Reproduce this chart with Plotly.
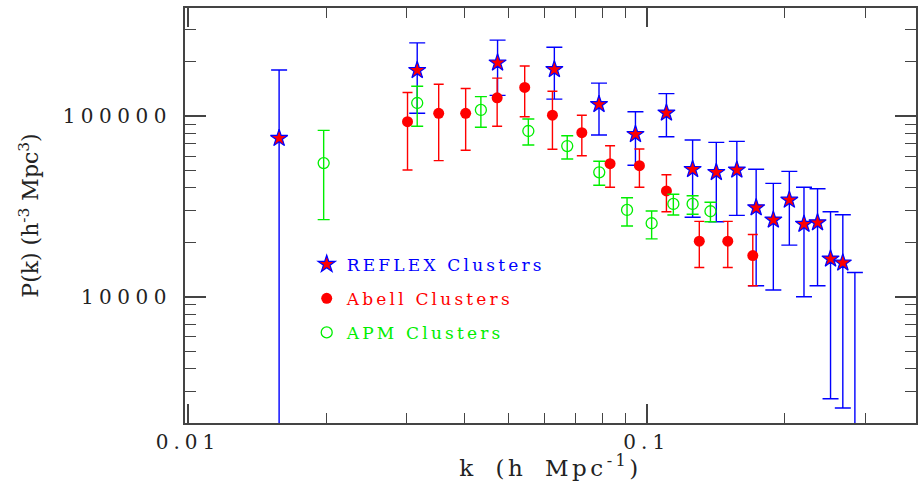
import numpy as np
import plotly.graph_objects as go

# REFLEX clusters
k_reflex = [0.0158, 0.0316, 0.0473, 0.0629, 0.0787, 0.0945, 0.1104, 0.1259, 0.1418,
            0.1572, 0.1732, 0.1888, 0.2046, 0.2202, 0.2357, 0.2516, 0.2676, 0.2843]
p_reflex = [75300, 179000, 197000, 181000, 116000, 79200, 104000, 50700, 48800,
            50300, 31100, 26600, 34300, 25200, 25700, 16200, 15400, 1500]
p_reflex_hi = [179800, 254000, 263000, 240000, 152000, 105600, 133000, 73600, 71500,
               72400, 50700, 42400, 49400, 40300, 39600, 29500, 28400, 13600]
p_reflex_lo = [300, 103500, 130000, 124000, 78500, 53400, 76800, 27500, 26000,
               28200, 11500, 10900, 19300, 10000, 11500, 2726, 2421, 300]

# Abell clusters
k_abell = [0.0301, 0.0352, 0.0403, 0.0472, 0.0542, 0.0623, 0.0722, 0.0832, 0.0964,
           0.1104, 0.1302, 0.1502, 0.1703]
p_abell = [93000, 103500, 103500, 126000, 144000, 101000, 80800, 54500, 53100,
           38500, 20300, 20300, 16900]
p_abell_hi = [135000, 150000, 142000, 162000, 189000, 137000, 101000, 68500, 65700,
              47300, 26100, 26100, 22100]
p_abell_lo = [50300, 56600, 64600, 87700, 99000, 65400, 60300, 40300, 40300,
              29500, 14500, 14500, 11500]

# APM clusters
k_apm = [0.01976, 0.0316, 0.0435, 0.0552, 0.0671, 0.0788, 0.0906, 0.1025, 0.1143,
         0.1259, 0.1377]
p_apm = [54900, 118000, 108000, 82600, 68200, 48800, 30200, 25500, 32600, 32600, 29700]
p_apm_hi = [83300, 146000, 128000, 96200, 77800, 56200, 35300, 29800, 36900, 36200, 33300]
p_apm_lo = [26700, 87700, 86600, 69100, 57800, 41400, 24600, 20900, 28300, 28600, 26000]

x_tickvals = [0.01, 0.1]
x_ticktext = ["0.01", "0.1"]
y_tickvals = [10000, 100000]
y_ticktext = ["10000", "100000"]

FONT = "DejaVu Serif"
BLUE = "#0000ff"
RED = "#ff0000"
GREEN = "#00ee00"
AXC = "#444444"


def spaced(text, ls, ws=0, color=None):
    style = f"letter-spacing:{ls}px;"
    if ws:
        style += f"word-spacing:{ws}px;"
    if color:
        style += f"color:{color};"
    return f"<span style='{style}'>{text}</span>"


def errs(p, hi, lo):
    p = np.array(p, float)
    return np.array(hi, float) - p, p - np.array(lo, float)


fig = go.Figure()

up, dn = errs(p_reflex, p_reflex_hi, p_reflex_lo)
fig.add_trace(go.Scatter(
    x=k_reflex, y=p_reflex, mode="markers", legendgroup="reflex",
    name=spaced("REFLEX Clusters", 3.2, color=BLUE),
    marker=dict(symbol="star", size=13, color=RED, line=dict(color=BLUE, width=1.2)),
    error_y=dict(type="data", symmetric=False, array=up, arrayminus=dn,
                 color=BLUE, thickness=1.4, width=8),
))

up, dn = errs(p_abell, p_abell_hi, p_abell_lo)
fig.add_trace(go.Scatter(
    x=k_abell, y=p_abell, mode="markers", legendgroup="abell",
    name=spaced("Abell Clusters", 3.2, color=RED),
    marker=dict(symbol="circle", size=11, color=RED, line=dict(width=0)),
    error_y=dict(type="data", symmetric=False, array=up, arrayminus=dn,
                 color=RED, thickness=1.4, width=5),
))

up, dn = errs(p_apm, p_apm_hi, p_apm_lo)
fig.add_trace(go.Scatter(
    x=k_apm, y=p_apm, mode="markers", legendgroup="apm",
    name=spaced("APM Clusters", 3.2, color=GREEN),
    marker=dict(symbol="circle-open", size=11, color=GREEN, line=dict(color=GREEN, width=1.3)),
    error_y=dict(type="data", symmetric=False, array=up, arrayminus=dn,
                 color=GREEN, thickness=1.4, width=6),
))

x_minor = [0.02, 0.03, 0.04, 0.05, 0.06, 0.07, 0.08, 0.09, 0.2, 0.3]
y_minor = [3000, 4000, 5000, 6000, 7000, 8000, 9000,
           20000, 30000, 40000, 50000, 60000, 70000, 80000, 90000, 200000, 300000]

fig.update_layout(
    width=918, height=481,
    margin=dict(l=185, r=0, t=8, b=58),
    paper_bgcolor="white", plot_bgcolor="white",
    font=dict(family=FONT, size=20, color="#222222"),
    showlegend=True,
    legend=dict(x=0.1665, y=0.425, xanchor="left", yanchor="top",
                font=dict(family=FONT, size=17), bgcolor="rgba(0,0,0,0)",
                tracegroupgap=9, itemsizing="trace"),
    xaxis=dict(
        type="log", range=[-2.0065, -0.413],
        tickmode="array", tickvals=x_tickvals,
        ticktext=[spaced(t, 5) for t in x_ticktext],
        ticks="inside", ticklen=19, tickwidth=1.5, tickcolor=AXC,
        minor=dict(tickmode="array", tickvals=x_minor, ticks="inside", ticklen=10,
                   tickwidth=1.2, tickcolor=AXC, showgrid=False),
        showline=True, linecolor=AXC, linewidth=2, mirror="ticks",
        showgrid=False, zeroline=False,
        title=dict(text=spaced("k (h Mpc<sup>-1</sup>)", 3.5, ws=8),
                   font=dict(size=23), standoff=1),
    ),
    yaxis=dict(
        type="log", range=[3.301, 5.5977],
        tickmode="array", tickvals=y_tickvals,
        ticktext=[spaced(t, 5.5) for t in y_ticktext],
        ticks="inside", ticklen=21, tickwidth=1.5, tickcolor=AXC,
        minor=dict(tickmode="array", tickvals=y_minor, ticks="inside", ticklen=11,
                   tickwidth=1.2, tickcolor=AXC, showgrid=False),
        showline=True, linecolor=AXC, linewidth=2, mirror="ticks",
        showgrid=False, zeroline=False,
        ticklabelstandoff=7,
        title=dict(text="P(k) (h<sup>-3</sup> Mpc<sup>3</sup>)", font=dict(size=22), standoff=18),
    ),
)

fig.write_html("out.html")
